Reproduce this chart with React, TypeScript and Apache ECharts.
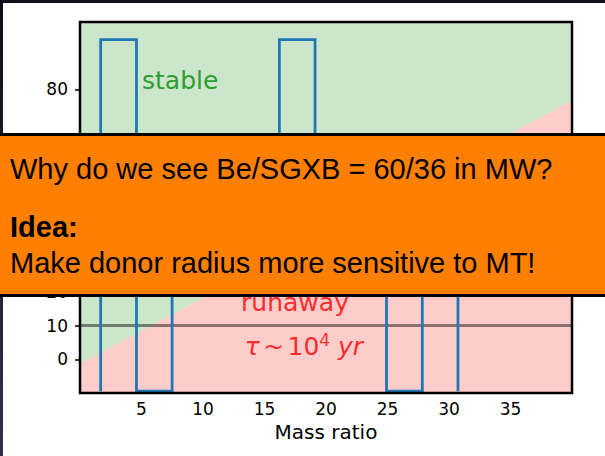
import React, { useEffect, useRef } from "react";
import * as echarts from "echarts";

const xTicks = [5, 10, 15, 20, 25, 30, 35];
const yTicks = [0, 10, 20, 80];
const binEdges = [1.68, 4.59, 7.49, 10.4, 13.3, 16.21, 19.11, 22.02, 24.92, 27.83, 30.73];
const binCounts = [2, 0, 1, 1, 1, 2, 1, 1, 0, 1];
const boundaryQ = [0, 40];
const boundaryY = [-1.3, 76.7];
const refLineY = 10;

const DJ = "'DejaVu Sans', sans-serif";
const LS = "'Liberation Sans', Arial, Helvetica, sans-serif";

export default function App() {
  const ref = useRef<HTMLDivElement>(null);
  useEffect(() => {
    document.body.style.margin = "0";
    const chart = echarts.init(ref.current!, null, { renderer: "svg" });

    const steps: number[][] = [[binEdges[0], 0]];
    binCounts.forEach((c, i) => {
      steps.push([binEdges[i], c]);
      steps.push([binEdges[i + 1], c]);
    });
    steps.push([binEdges[binEdges.length - 1], 0]);

    const boundary = boundaryQ.map((q, i) => [q, boundaryY[i]]);

    const G = { left: 80, top: 22, width: 492, height: 371 };

    chart.setOption({
      animation: false,
      backgroundColor: "#ffffff",
      grid: { ...G, show: true, backgroundColor: "#cce6cc", borderWidth: 0 },
      xAxis: {
        type: "value",
        min: 0,
        max: 40,
        name: "Mass ratio",
        nameLocation: "middle",
        nameGap: 29,
        nameTextStyle: { fontSize: 20, color: "#000", fontFamily: DJ },
        splitLine: { show: false },
        axisLine: { show: false },
        axisTick: { show: true, customValues: xTicks, length: 5, lineStyle: { color: "#000", width: 1.5 } },
        axisLabel: { customValues: xTicks, fontSize: 17, color: "#000", fontFamily: DJ, margin: 7 },
      },
      yAxis: [
        {
          type: "value",
          min: -10,
          max: 100,
          splitLine: { show: false },
          axisLine: { show: false },
          axisTick: { show: true, customValues: yTicks, length: 5, lineStyle: { color: "#000", width: 1.5 } },
          axisLabel: { customValues: yTicks, fontSize: 17, color: "#000", fontFamily: DJ, margin: 12 },
        },
        { type: "value", min: -0.01, max: 2.1, show: false },
      ],
      series: [
        {
          type: "line",
          data: boundary,
          symbol: "none",
          lineStyle: { width: 0 },
          areaStyle: { color: "#ffcccc", opacity: 1, origin: "start" },
          z: 1,
          silent: true,
          markLine: {
            silent: true,
            symbol: ["none", "none"],
            label: { show: false },
            lineStyle: { color: "rgba(0,0,0,0.45)", width: 3, type: "solid" },
            data: [{ yAxis: refLineY }],
          },
        },
        {
          type: "line",
          yAxisIndex: 1,
          data: steps,
          symbol: "none",
          lineStyle: { color: "#1f77b4", width: 2.8, join: "miter" },
          z: 5,
          silent: true,
        },
      ],
      graphic: [
        { type: "rect", z: 20, shape: { x: G.left, y: G.top, width: G.width, height: G.height }, style: { fill: "none", stroke: "#000", lineWidth: 2.5 } },
        { type: "text", z: 10, x: 142, y: 80.5, style: { text: "stable", font: `25px ${DJ}`, fill: "#2f9e2f", verticalAlign: "middle", align: "left" } },
        { type: "text", z: 10, x: 295, y: 302, style: { text: "runaway", font: `25px ${DJ}`, fill: "#ff2b2b", verticalAlign: "middle", align: "center" } },
        {
          type: "text", z: 10, x: 304, y: 346.5,
          style: {
            text: "{it|τ} {n|~} {n|10}{sup|4}{it| yr}",
            align: "center",
            verticalAlign: "middle",
            fill: "#ff2b2b",
            rich: {
              it: { fontFamily: DJ, fontStyle: "italic", fontSize: 25, lineHeight: 30, fill: "#ff2b2b", verticalAlign: "middle" },
              n: { fontFamily: DJ, fontSize: 25, lineHeight: 30, fill: "#ff2b2b", verticalAlign: "middle" },
              sup: { fontFamily: DJ, fontSize: 17, lineHeight: 17, fill: "#ff2b2b", verticalAlign: "top" },
            },
          },
        },
        { type: "rect", z: 30, shape: { x: 0, y: 0, width: 605, height: 3 }, style: { fill: "#0c0f18" } },
        {
          type: "rect", z: 30, shape: { x: 0, y: 0, width: 3, height: 456 },
          style: { fill: new echarts.graphic.LinearGradient(0, 0, 0, 1, [{ offset: 0, color: "#0c0f18" }, { offset: 1, color: "#34304a" }]) },
        },
        { type: "rect", z: 100, shape: { x: -3, y: 134.5, width: 611, height: 161 }, style: { fill: "#ff8000", stroke: "#000", lineWidth: 3 } },
        { type: "text", z: 101, x: 10, y: 169.3, style: { text: "Why do we see Be/SGXB = 60/36 in MW?", font: `29px ${LS}`, fill: "#000", verticalAlign: "middle", align: "left" } },
        { type: "text", z: 101, x: 10, y: 226.7, style: { text: "Idea:", font: `bold 29px ${LS}`, fill: "#000", verticalAlign: "middle", align: "left" } },
        { type: "text", z: 101, x: 10, y: 263.3, style: { text: "Make donor radius more sensitive to MT!", font: `29px ${LS}`, fill: "#000", verticalAlign: "middle", align: "left" } },
      ],
    });
    return () => chart.dispose();
  }, []);
  return <div ref={ref} style={{ position: "absolute", left: 0, top: 0, width: 605, height: 456 }} />;
}
